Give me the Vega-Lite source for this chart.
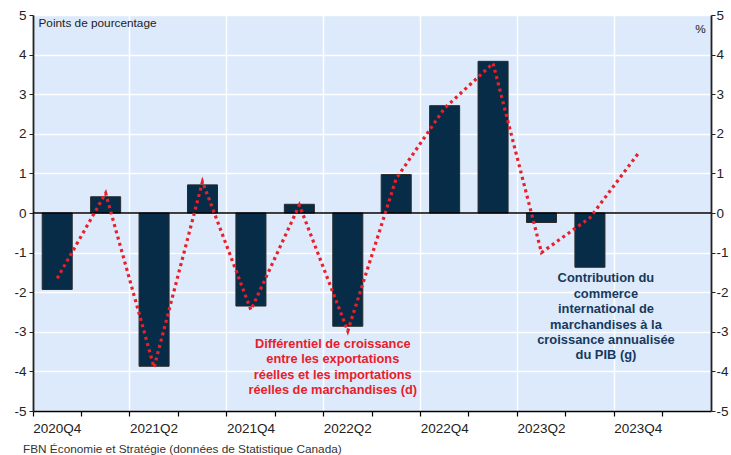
{
  "$schema": "https://vega.github.io/schema/vega-lite/v6.json",
  "autosize": {"type": "none"},
  "padding": {"left": 33, "top": 15, "right": 20, "bottom": 44},
  "width": 678,
  "height": 396,
  "background": "white",
  "title": {"text": "FBN Économie et Stratégie (données de Statistique Canada)", "orient": "bottom", "anchor": "start", "frame": "group", "offset": 9, "dx": -10, "fontSize": 11.8, "fontWeight": "normal", "color": "#333333", "font": "Liberation Sans"},
  "config": {
    "view": {"fill": "#DDEAFB", "stroke": null},
    "font": "Liberation Sans",
    "axis": {"labelFont": "Liberation Sans", "labelFontSize": 13.5, "labelColor": "#222222", "titleFont": "Liberation Sans"}
  },
  "datasets": {
    "trade": [
      {"q": "2020Q4", "contrib": -1.93, "diff": -1.65},
      {"q": "2021Q1", "contrib": 0.41, "diff": 0.50},
      {"q": "2021Q2", "contrib": -3.87, "diff": -3.90},
      {"q": "2021Q3", "contrib": 0.71, "diff": 0.79},
      {"q": "2021Q4", "contrib": -2.35, "diff": -2.45},
      {"q": "2022Q1", "contrib": 0.22, "diff": 0.20},
      {"q": "2022Q2", "contrib": -2.86, "diff": -2.98},
      {"q": "2022Q3", "contrib": 0.97, "diff": 0.87},
      {"q": "2022Q4", "contrib": 2.71, "diff": 2.65},
      {"q": "2023Q1", "contrib": 3.83, "diff": 3.78},
      {"q": "2023Q2", "contrib": -0.24, "diff": -1.00},
      {"q": "2023Q3", "contrib": -1.37, "diff": -0.12},
      {"q": "2023Q4", "contrib": null, "diff": 1.51}
    ],
    "notes": [
      {"q": "2022Q2", "v": -3.15, "who": "diff", "text": ["Différentiel de croissance", "entre les exportations", "réelles et les importations", "réelles de marchandises (d)"]},
      {"q": "2023Q3", "v": -1.5, "who": "contrib", "text": ["Contribution du", "commerce", "international de", "marchandises à la", "croissance annualisée", "du PIB (g)"]}
    ]
  },
  "encoding": {
    "x": {
      "field": "q", "type": "ordinal",
      "scale": {"domain": ["2020Q4","2021Q1","2021Q2","2021Q3","2021Q4","2022Q1","2022Q2","2022Q3","2022Q4","2023Q1","2023Q2","2023Q3","2023Q4","2024Q1"], "paddingInner": 0, "paddingOuter": 0},
      "axis": {
        "title": null, "orient": "bottom", "bandPosition": 0, "labelAngle": 0, "labelAlign": "center", "labelPadding": 5, "labelOverlap": false,
        "labelExpr": "indexof(['2020Q4','2021Q2','2021Q4','2022Q2','2022Q4','2023Q2','2023Q4'], datum.value) >= 0 ? datum.label : ''",
        "domainColor": "#000000", "domainWidth": 1.5, "tickColor": "#000000", "tickSize": 5, "tickWidth": 1.2,
        "grid": true, "gridColor": "#FFFFFF", "gridWidth": 1.5,
        "gridOpacity": {"condition": {"test": "indexof(['2021Q2','2021Q4','2022Q2','2022Q4','2023Q2','2023Q4'], datum.value) >= 0", "value": 1}, "value": 0}
      }
    }
  },
  "layer": [
    {
      "data": {"name": "trade"},
      "mark": {"type": "bar", "width": {"band": 0.62}, "fill": "#062C48", "stroke": "#2A2A2A", "strokeWidth": 1},
      "encoding": {
        "y": {
          "field": "contrib", "type": "quantitative",
          "scale": {"domain": [-5, 5], "nice": false, "zero": false},
          "axis": {
            "orient": "left", "values": [-5,-4,-3,-2,-1,0,1,2,3,4,5], "labelOverlap": false, "labelExpr": "'' + datum.value",
            "grid": true, "gridColor": "#FFFFFF", "gridWidth": 1.5,
            "domainColor": "#222222", "domainWidth": 1.8, "tickColor": "#222222", "tickSize": 4, "labelPadding": 3,
            "title": "Points de pourcentage", "titleAngle": 0, "titleAlign": "left", "titleBaseline": "middle", "titleX": 5, "titleY": 7,
            "titleFontSize": 11.8, "titleFontWeight": "normal", "titleColor": "#222222"
          }
        }
      }
    },
    {
      "data": {"values": [{"zero": 0}]},
      "mark": {"type": "rule", "color": "#000000", "strokeWidth": 1.5},
      "encoding": {"y": {"field": "zero", "type": "quantitative", "scale": {"domain": [-5, 5], "nice": false, "zero": false}, "axis": null}, "x": {"value": 0}, "x2": {"value": 678}}
    },
    {
      "data": {"name": "notes"},
      "transform": [{"filter": "datum.who == 'diff'"}],
      "mark": {"type": "text", "align": "center", "baseline": "top", "dx": -15, "fontSize": 12.8, "fontWeight": "bold", "lineHeight": 15.4, "color": "#E8202A", "font": "Liberation Sans"},
      "encoding": {"y": {"field": "v", "type": "quantitative", "scale": {"domain": [-5, 5], "nice": false, "zero": false}, "axis": null}, "text": {"field": "text"}}
    },
    {
      "data": {"name": "notes"},
      "transform": [{"filter": "datum.who == 'contrib'"}],
      "mark": {"type": "text", "align": "center", "baseline": "top", "dx": 16, "fontSize": 12.9, "fontWeight": "bold", "lineHeight": 15.4, "color": "#17395C", "font": "Liberation Sans"},
      "encoding": {"y": {"field": "v", "type": "quantitative", "scale": {"domain": [-5, 5], "nice": false, "zero": false}, "axis": null}, "text": {"field": "text"}}
    },
    {
      "data": {"name": "trade"},
      "mark": {"type": "line", "color": "#E8202A", "strokeWidth": 3.2, "strokeDash": [3, 3.5], "strokeCap": "butt"},
      "encoding": {
        "y": {
          "field": "diff", "type": "quantitative",
          "scale": {"domain": [-5, 5], "nice": false, "zero": false},
          "axis": {
            "orient": "right", "values": [-5,-4,-3,-2,-1,0,1,2,3,4,5], "labelOverlap": false, "labelExpr": "'' + datum.value", "grid": false,
            "domainColor": "#222222", "domainWidth": 1.8, "tickColor": "#222222", "tickSize": 4, "labelPadding": 1,
            "title": "%", "titleAngle": 0, "titleAlign": "center", "titleBaseline": "middle", "titleX": -11, "titleY": 13,
            "titleFontSize": 11.8, "titleFontWeight": "normal", "titleColor": "#222222"
          }
        }
      }
    }
  ],
  "resolve": {"scale": {"y": "independent"}, "axis": {"y": "independent"}}
}
